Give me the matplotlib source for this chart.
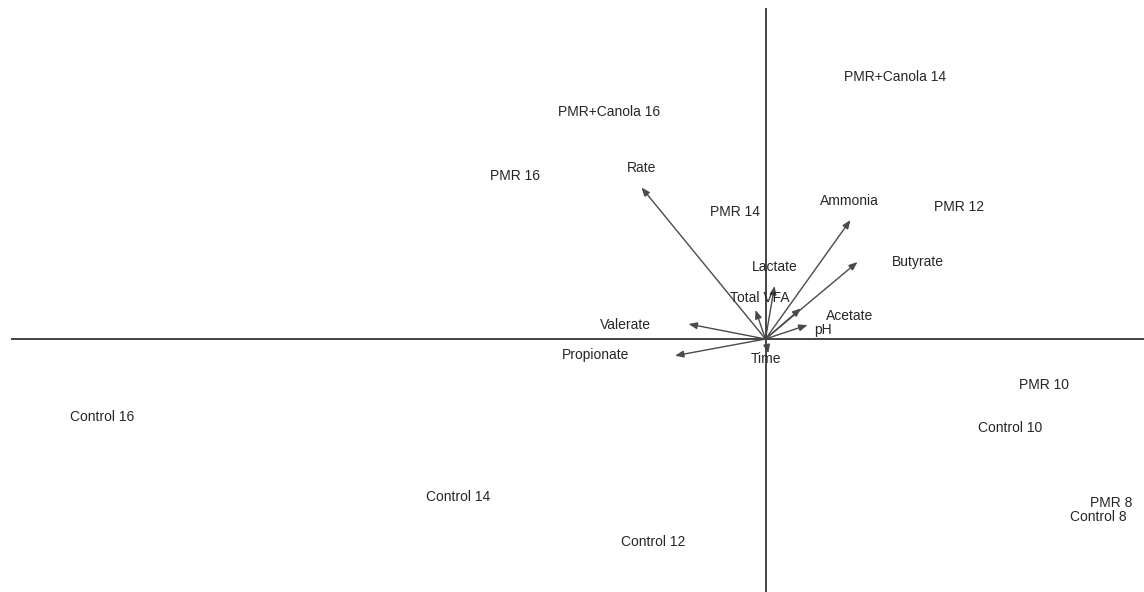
import matplotlib
matplotlib.use("Agg")
import matplotlib.pyplot as plt
from matplotlib.patches import FancyArrowPatch

# Sample scores (label positions) on the first two ordination axes
sample_names = ["PMR+Canola 14", "PMR+Canola 16", "PMR 16", "PMR 14", "PMR 12",
                "PMR 10", "Control 10", "PMR 8", "Control 8",
                "Control 16", "Control 14", "Control 12"]
sample_x = [1.30, -1.565, -2.50, -0.307, 1.931, 2.788, 2.445, 3.452, 3.328,
            -6.638, -3.072, -1.128]
sample_y = [2.623, 2.267, 1.633, 1.273, 1.323, -0.46, -0.893, -1.643, -1.777,
            -0.783, -1.577, -2.027]

# Variable loadings (arrow tips) and where each variable's name sits
var_names = ["Rate", "Ammonia", "Butyrate", "Lactate", "Total VFA", "Acetate",
             "pH", "Valerate", "Propionate", "Time"]
var_x = [-1.24, 0.85, 0.92, 0.09, -0.10, 0.355, 0.42, -0.77, -0.905, 0.028]
var_y = [1.515, 1.19, 0.77, 0.53, 0.29, 0.307, 0.14, 0.15, -0.167, -0.143]
var_label_x = [-1.236, 0.844, 1.525, 0.095, -0.055, 0.845, 0.578, -1.398, -1.695, 0.002]
var_label_y = [1.707, 1.383, 0.77, 0.723, 0.407, 0.233, 0.09, 0.14, -0.16, -0.203]

plt.rcParams["font.family"] = ["Liberation Sans", "DejaVu Sans"]

fig = plt.figure(figsize=(11.44, 5.92), dpi=100)
ax = fig.add_axes([0, 0, 1, 1])
ax.set_xlim(-7.655, 3.785)
ax.set_ylim(-2.53, 3.39)
ax.axis("off")

# Axis lines through the origin
ax.plot([-7.545, 3.785], [0, 0], color="#444444", lw=1.4, solid_capstyle="butt")
ax.plot([0, 0], [3.31, -2.53], color="#444444", lw=1.4, solid_capstyle="butt")

text_color = "#262626"

for name, x, y in zip(sample_names, sample_x, sample_y):
    ax.text(x, y, name, ha="center", va="center", fontsize=10, color=text_color)

for name, x, y, lx, ly in zip(var_names, var_x, var_y, var_label_x, var_label_y):
    arrow = FancyArrowPatch((0, 0), (x, y),
                            arrowstyle="-|>,head_length=0.5,head_width=0.2",
                            mutation_scale=10, color="#4a4a4a", lw=1.0,
                            shrinkA=0, shrinkB=0)
    ax.add_patch(arrow)
    ax.text(lx, ly, name, ha="center", va="center", fontsize=10, color=text_color)

fig.savefig("out.png", dpi=100, facecolor="white")
